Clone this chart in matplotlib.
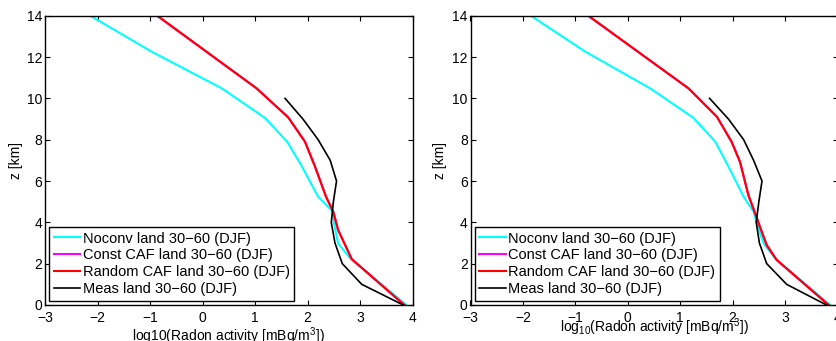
import matplotlib
matplotlib.use("Agg")
import matplotlib.pyplot as plt

plt.rcParams['font.family'] = ['Liberation Sans', 'DejaVu Sans']
plt.rcParams['mathtext.fontset'] = 'custom'
plt.rcParams['mathtext.rm'] = 'Liberation Sans'
plt.rcParams['mathtext.it'] = 'Liberation Sans:italic'
plt.rcParams['font.size'] = 10

labels = ['Noconv land 30\u221260 (DJF)', 'Const CAF land 30\u221260 (DJF)',
          'Random CAF land 30\u221260 (DJF)', 'Meas land 30\u221260 (DJF)']

# left panel
noconv_z_l = [0, 2.26, 2.98, 4.0, 4.55, 5.24, 6.8, 7.9, 9.05, 10.48, 12.26, 14]
noconv_v_l = [3.88, 2.81, 2.58, 2.50, 2.47, 2.20, 1.87, 1.61, 1.19, 0.37, -0.97, -2.14]
caf_z_l = [0, 2.22, 3.63, 4.5, 5.24, 6.7, 7.9, 9.08, 10.48, 14]
const_v_l = [3.84, 2.84, 2.58, 2.49, 2.35, 2.14, 1.95, 1.63, 1.03, -0.87]
random_v_l = [3.84, 2.84, 2.58, 2.49, 2.35, 2.14, 1.95, 1.63, 1.03, -0.86]
meas_z = [0, 1, 2, 3, 4, 5, 6, 7, 8, 9, 10]
meas_v_l = [3.82, 3.03, 2.66, 2.52, 2.45, 2.49, 2.55, 2.43, 2.20, 1.91, 1.57]

# right panel
noconv_z_r = [0, 2.26, 2.98, 3.95, 4.51, 5.24, 6.7, 7.9, 9.06, 10.48, 12.26, 14]
noconv_v_r = [3.86, 2.81, 2.59, 2.46, 2.40, 2.21, 1.92, 1.67, 1.25, 0.43, -0.81, -1.85]
caf_z_r = [0, 2.18, 2.9, 3.79, 4.43, 5.32, 6.93, 7.9, 9.11, 10.48, 14]
const_v_r = [3.83, 2.84, 2.65, 2.52, 2.43, 2.30, 2.14, 1.98, 1.70, 1.16, -0.76]
random_v_r = [3.83, 2.84, 2.65, 2.52, 2.43, 2.30, 2.14, 1.98, 1.70, 1.16, -0.75]
meas_v_r = [3.79, 3.03, 2.65, 2.51, 2.45, 2.50, 2.56, 2.40, 2.21, 1.92, 1.56]

xticks = [-3, -2, -1, 0, 1, 2, 3, 4]
yticks = [0, 2, 4, 6, 8, 10, 12, 14]

fig = plt.figure(figsize=(8.36, 3.41), dpi=100)
ax1 = fig.add_axes([45 / 836, 36 / 341, 367.7 / 836, 289.3 / 341])
ax2 = fig.add_axes([470.5 / 836, 36 / 341, 367 / 836, 289.3 / 341])

panels = [
    (ax1, noconv_z_l, noconv_v_l, caf_z_l, const_v_l, random_v_l, meas_v_l,
     'log10(Radon activity [mBq/m$^3$])', -0.072, -0.059),
    (ax2, noconv_z_r, noconv_v_r, caf_z_r, const_v_r, random_v_r, meas_v_r,
     'log$_{10}$(Radon activity [mBq/m$^3$])', -0.040, -0.065),
]

for ax, nz, nv, cz, cv, rv, mv, xl, xly, ylx in panels:
    ax.plot(nv, nz, color='#00ffff', lw=1.5, label=labels[0])
    ax.plot(cv, cz, color='#ff00ff', lw=1.5, label=labels[1])
    ax.plot(rv, cz, color='#ff0000', lw=1.5, label=labels[2])
    ax.plot(mv, meas_z, color='black', lw=1.2, label=labels[3])
    ax.set_xlim(-3, 4)
    ax.set_ylim(0, 14)
    ax.set_xticks(xticks)
    ax.set_yticks(yticks)
    ax.tick_params(direction='in', top=True, right=True, length=3.5, width=0.8)
    ax.tick_params(axis='x', pad=4)
    ax.tick_params(axis='y', pad=2)
    for s in ax.spines.values():
        s.set_linewidth(1.0)
    ax.set_xlabel(xl)
    ax.xaxis.set_label_coords(0.5, xly)
    ax.set_ylabel('z [km]')
    ax.yaxis.set_label_coords(ylx, 0.5)
    leg = ax.legend(loc='lower left', bbox_to_anchor=(0, 0), borderaxespad=0.3,
                    fontsize=10.5, handlelength=1.8, handletextpad=0.2,
                    labelspacing=0.2, borderpad=0.3, fancybox=False,
                    framealpha=1, edgecolor='black')
    leg.get_frame().set_linewidth(1.0)

fig.savefig('out.png', dpi=100)
